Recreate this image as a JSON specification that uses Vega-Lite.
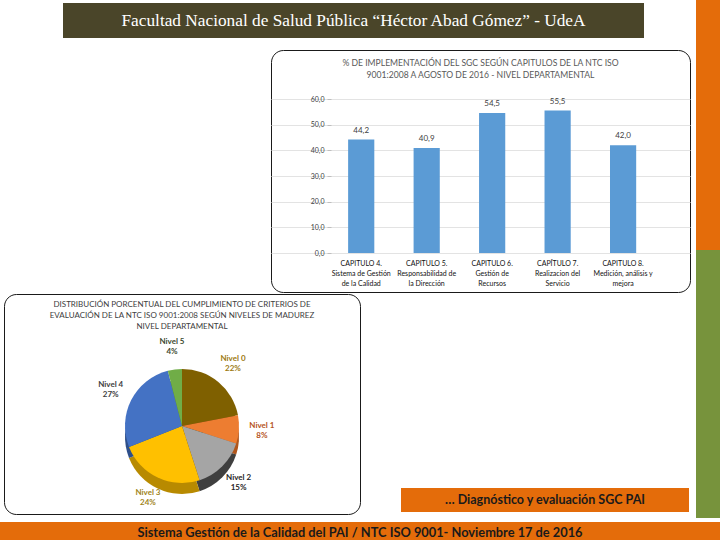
{
  "$schema": "https://vega.github.io/schema/vega-lite/v6.json",
  "background": "white",
  "padding": 0,
  "spacing": 0,
  "config": {
    "view": {"stroke": null},
    "concat": {"spacing": 0},
    "font": "Lato",
    "locale": {"number": {"decimal": ",", "thousands": ".", "grouping": [3], "currency": ["$", ""]}}
  },
  "vconcat": [
    {
      "spacing": 0,
      "hconcat": [
        {
          "spacing": 0,
          "vconcat": [
            {
              "spacing": 0,
              "hconcat": [
                {"width": 63, "height": 38, "data": {"values": []}, "mark": "point"},
                {
                  "spacing": 0,
                  "vconcat": [
                    {"width": 581, "height": 3, "data": {"values": []}, "mark": "point"},
                    {
                      "width": 581, "height": 35,
                      "view": {"fill": "#4a4529", "stroke": null},
                      "data": {"values": [{"t": "Facultad Nacional  de Salud Pública “Héctor Abad Gómez” - UdeA"}]},
                      "mark": {"type": "text", "font": "Liberation Serif", "fontSize": 17.3, "color": "#ffffff"},
                      "encoding": {"text": {"field": "t"}}
                    }
                  ]
                }
              ]
            },
            {"width": 694, "height": 11, "data": {"values": []}, "mark": "point"},
            {
              "spacing": 0,
              "hconcat": [
                {"width": 270, "height": 242, "data": {"values": []}, "mark": "point"},
                {
                  "width": 419, "height": 242,
                  "view": {"fill": "#ffffff", "stroke": "#1a1a1a", "strokeWidth": 1, "cornerRadius": 12},
                  "title": {
                    "text": ["% DE IMPLEMENTACIÓN DEL SGC SEGÚN CAPITULOS DE LA NTC ISO", "9001:2008 A AGOSTO DE 2016  - NIVEL DEPARTAMENTAL"],
                    "font": "Lato", "fontSize": 8.6, "fontWeight": "normal", "color": "#595959",
                    "anchor": "middle", "offset": -30, "lineHeight": 12
                  },
                  "data": {"values": [
                    {"capitulo": "CAPITULO 4.|Sistema de Gestión|de la Calidad", "pct": 44.2},
                    {"capitulo": "CAPITULO 5.|Responsabilidad de|la Dirección", "pct": 40.9},
                    {"capitulo": "CAPITULO 6.|Gestión de|Recursos", "pct": 54.5},
                    {"capitulo": "CAPÍTULO 7.|Realizacion del|Servicio", "pct": 55.5},
                    {"capitulo": "CAPITULO 8.|Medición, análisis y|mejora", "pct": 42.0}
                  ]},
                  "encoding": {
                    "x": {
                      "field": "capitulo", "type": "nominal", "sort": null,
                      "scale": {"paddingInner": 0.6, "paddingOuter": 1.05, "align": 0.589},
                      "axis": {
                        "title": null, "orient": "bottom", "offset": -39, "labelAngle": 0,
                        "labelExpr": "split(datum.label, '|')", "labelFont": "Lato", "labelFontSize": 7,
                        "labelLineHeight": 10, "labelColor": "#111111", "labelPadding": 6,
                        "ticks": false, "domain": false, "labelLimit": 200, "grid": false
                      }
                    },
                    "y": {
                      "field": "pct", "type": "quantitative",
                      "scale": {"domain": [-15.19, 79.09], "nice": false, "zero": false},
                      "axis": {
                        "title": null, "offset": -60, "values": [0, 10, 20, 30, 40, 50, 60], "format": ".1f",
                        "labelFont": "Lato", "labelFontSize": 7, "labelColor": "#404040", "domain": false,
                        "tickSize": 4, "tickColor": "#bfbfbf", "gridColor": "#e3e3e3", "labelPadding": 3
                      }
                    }
                  },
                  "layer": [
                    {"mark": {"type": "bar", "color": "#5b9bd5"}},
                    {
                      "mark": {"type": "text", "dy": -9, "fontSize": 8, "color": "#404040", "font": "Lato"},
                      "encoding": {"text": {"field": "pct", "type": "quantitative", "format": ".1f"}}
                    }
                  ]
                }
              ]
            },
            {
              "spacing": 0,
              "hconcat": [
                {"width": 3, "height": 220, "data": {"values": []}, "mark": "point"},
                {
                  "width": 356, "height": 220,
                  "view": {"fill": "#ffffff", "stroke": "#1a1a1a", "strokeWidth": 1, "cornerRadius": 12},
                  "title": {
                    "text": ["DISTRIBUCIÓN PORCENTUAL DEL CUMPLIMIENTO DE CRITERIOS DE", "EVALUACIÓN DE LA NTC ISO 9001:2008 SEGÚN NIVELES DE MADUREZ", "NIVEL DEPARTAMENTAL"],
                    "font": "Lato", "fontSize": 8, "fontWeight": "normal", "color": "#404040",
                    "anchor": "middle", "offset": -37, "lineHeight": 11
                  },
                  "data": {"values": [
                    {"nivel": "Nivel 0", "pct": 0.22},
                    {"nivel": "Nivel 1", "pct": 0.08},
                    {"nivel": "Nivel 2", "pct": 0.15},
                    {"nivel": "Nivel 3", "pct": 0.24},
                    {"nivel": "Nivel 4", "pct": 0.27},
                    {"nivel": "Nivel 5", "pct": 0.04}
                  ]},
                  "encoding": {
                    "theta": {"field": "pct", "type": "quantitative", "stack": true},
                    "y": {"datum": 0, "type": "quantitative", "scale": {"domain": [-0.667, 1], "nice": false, "zero": false}, "axis": null}
                  },
                  "layer": [
                    {
                      "mark": {"type": "arc", "outerRadius": 57},
                      "encoding": {
                        "y": {"datum": -0.0833, "type": "quantitative"},
                        "color": {"field": "nivel", "type": "nominal", "legend": null,
                        "scale": {"range": ["#4f3c00", "#b0561c", "#3f3f3f", "#b88a00", "#2e4f8a", "#4d7a30"]}}}
                    },
                    {
                      "mark": {"type": "arc", "outerRadius": 57},
                      "encoding": {"color": {"field": "nivel", "type": "nominal", "legend": null,
                        "scale": {"range": ["#7f6000", "#ed7d31", "#a5a5a5", "#ffc000", "#4472c4", "#70ad47"]}}}
                    },
                    {
                      "mark": {"type": "text", "radius": 80, "dy": -5, "fontSize": 8, "fontWeight": "bold", "font": "Lato"},
                      "encoding": {
                        "text": {"field": "nivel"},
                        "color": {"field": "nivel", "type": "nominal", "legend": null,
                          "scale": {"range": ["#9c7a10", "#b5531a", "#262626", "#a08420", "#404040", "#3d4a30"]}}
                      }
                    },
                    {
                      "mark": {"type": "text", "radius": 80, "dy": 5, "fontSize": 8, "fontWeight": "bold", "font": "Lato"},
                      "encoding": {
                        "text": {"field": "pct", "type": "quantitative", "format": ".0%"},
                        "color": {"field": "nivel", "type": "nominal", "legend": null,
                          "scale": {"range": ["#9c7a10", "#b5531a", "#262626", "#a08420", "#404040", "#3d4a30"]}}
                      }
                    }
                  ],
                  "resolve": {"scale": {"color": "independent"}}
                },
                {
                  "spacing": 0,
                  "vconcat": [
                    {"width": 335, "height": 194, "data": {"values": []}, "mark": "point"},
                    {
                      "spacing": 0,
                      "hconcat": [
                        {"width": 40, "height": 24, "data": {"values": []}, "mark": "point"},
                        {
                          "width": 288, "height": 24,
                          "view": {"fill": "#e46c0a", "stroke": null},
                          "data": {"values": [{"t": "… Diagnóstico y evaluación SGC PAI"}]},
                          "mark": {"type": "text", "font": "Lato", "fontSize": 12.5, "fontWeight": "bold", "color": "#1a1a1a"},
                          "encoding": {"text": {"field": "t"}}
                        }
                      ]
                    }
                  ]
                }
              ]
            },
            {"width": 694, "height": 7, "data": {"values": []}, "mark": "point"}
          ]
        },
        {
          "spacing": 0,
          "vconcat": [
            {"width": 26, "height": 250, "view": {"fill": "#e46c0a", "stroke": null}, "data": {"values": []}, "mark": "point"},
            {"width": 26, "height": 268, "view": {"fill": "#77933c", "stroke": null}, "data": {"values": []}, "mark": "point"}
          ]
        }
      ]
    },
    {
      "width": 720, "height": 22,
      "view": {"fill": "#e46c0a", "stroke": null},
      "data": {"values": [{"t": "Sistema Gestión de la Calidad del PAI / NTC ISO 9001- Noviembre 17 de 2016"}]},
      "mark": {"type": "text", "font": "Lato", "fontSize": 12.8, "fontWeight": "bold", "color": "#1a1a1a"},
      "encoding": {"text": {"field": "t"}}
    }
  ]
}
